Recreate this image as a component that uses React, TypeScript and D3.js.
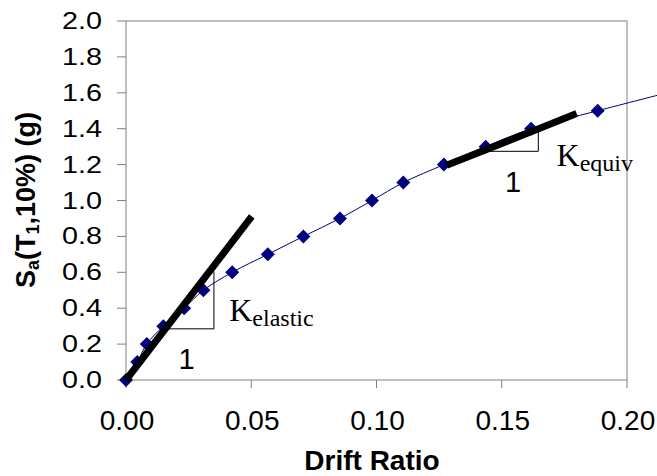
import React from 'react';
import * as d3 from 'd3';

// pushover curve
const driftRatio = [0, 0.0045, 0.0083, 0.0149, 0.0232, 0.0309, 0.0424, 0.0566, 0.0708, 0.0854, 0.0982, 0.1107, 0.1269, 0.1436, 0.1617, 0.1883, 0.216];
const saValues = [0, 0.1, 0.2, 0.3, 0.4, 0.5, 0.6, 0.7, 0.8, 0.9, 1.0, 1.1, 1.2, 1.3, 1.4, 1.5, 1.6];

const xTicks = [0, 0.05, 0.1, 0.15, 0.2];
const yTicks = [0, 0.2, 0.4, 0.6, 0.8, 1.0, 1.2, 1.4, 1.6, 1.8, 2.0];

// stiffness lines and their slope triangles
const elasticLine: [number, number][] = [[0, 0], [0.0502, 0.911]];
const equivLine: [number, number][] = [[0.128, 1.196], [0.1799, 1.484]];
const elasticTriangle: [number, number][] = [[0.0157, 0.285], [0.0351, 0.285], [0.0351, 0.606]];
const equivTriangle: [number, number][] = [[0.1437, 1.274], [0.1646, 1.274], [0.1646, 1.4]];

const sans = '"Liberation Sans", Arial, sans-serif';
const serif = '"Liberation Serif", "Times New Roman", serif';

export default function App() {
    const width = 657;
    const height = 476;

    const x = d3.scaleLinear().domain([0, 0.2]).range([126, 627]);
    const y = d3.scaleLinear().domain([0, 2]).range([380, 21]);

    const points: [number, number][] = driftRatio.map((d, i) => [d, saValues[i]]);

    const curve = d3.line<[number, number]>()
        .x(d => x(d[0]))
        .y(d => y(d[1]))
        .curve(d3.curveCatmullRom.alpha(0.5));
    const straight = d3.line<[number, number]>()
        .x(d => x(d[0]))
        .y(d => y(d[1]));

    const diamond = d3.symbol(d3.symbolSquare, 2 * 7 * 7)();
    const fy = d3.format('.1f');
    const fx = d3.format('.2f');

    return (
        <svg width={width} height={height} style={{ position: 'absolute', left: 0, top: 0, background: '#fff' }}>
            {/* plot frame */}
            <rect x={x(0)} y={y(2)} width={x(0.2) - x(0)} height={y(0) - y(2)} fill="none" stroke="#808080" strokeWidth={1} />

            {/* y axis */}
            {yTicks.map(t => (
                <g key={'y' + t}>
                    <line x1={x(0) - 9} x2={x(0)} y1={y(t)} y2={y(t)} stroke="#808080" />
                    <text transform={`translate(102,${y(t) + 8}) scale(1.25,1)`} textAnchor="end"
                        fontFamily={sans} fontSize={23} fill="#000">{fy(t)}</text>
                </g>
            ))}

            {/* x axis */}
            {xTicks.map(t => (
                <g key={'x' + t}>
                    <line x1={x(t)} x2={x(t)} y1={y(0)} y2={y(0) + 8} stroke="#808080" />
                    <text x={x(t) + 1} y={430} textAnchor="middle" fontFamily={sans} fontSize={28} fill="#000">{fx(t)}</text>
                </g>
            ))}

            <text x={372} y={470} textAnchor="middle" fontFamily={sans} fontWeight="bold" fontSize={28}>Drift Ratio</text>
            <text transform={`translate(35,200) rotate(-90)`} textAnchor="middle" fontFamily={sans} fontWeight="bold" fontSize={27}>
                S<tspan fontSize={18} dy={4}>a</tspan><tspan dy={-4}>(T</tspan><tspan fontSize={18} dy={4}>1</tspan><tspan dy={-4}>,10%) (g)</tspan>
            </text>

            {/* data */}
            <path d={curve(points) || ''} fill="none" stroke="#000080" strokeWidth={1} />
            {points.map((p, i) => (
                <path key={'m' + i} d={diamond || ''} transform={`translate(${x(p[0])},${y(p[1])}) rotate(45)`} fill="#000080" />
            ))}

            {/* slope triangles */}
            <path d={straight(elasticTriangle) || ''} fill="none" stroke="#000" strokeWidth={1} />
            <path d={straight(equivTriangle) || ''} fill="none" stroke="#000" strokeWidth={1} />

            {/* stiffness lines */}
            <path d={straight(elasticLine) || ''} fill="none" stroke="#000" strokeWidth={7} />
            <path d={straight(equivLine) || ''} fill="none" stroke="#000" strokeWidth={7} />

            {/* labels */}
            <text x={x(0.0242)} y={y(0.061)} textAnchor="middle" fontFamily={sans} fontSize={29}>1</text>
            <text x={x(0.0412)} y={y(0.33)} fontFamily={serif} fontSize={32}>
                K<tspan fontSize={24} dy={5}>elastic</tspan>
            </text>
            <text x={x(0.1545)} y={y(1.048)} textAnchor="middle" fontFamily={sans} fontSize={29}>1</text>
            <text x={x(0.1719)} y={y(1.19)} fontFamily={serif} fontSize={32}>
                K<tspan fontSize={24} dy={5}>equiv</tspan>
            </text>
        </svg>
    );
}
